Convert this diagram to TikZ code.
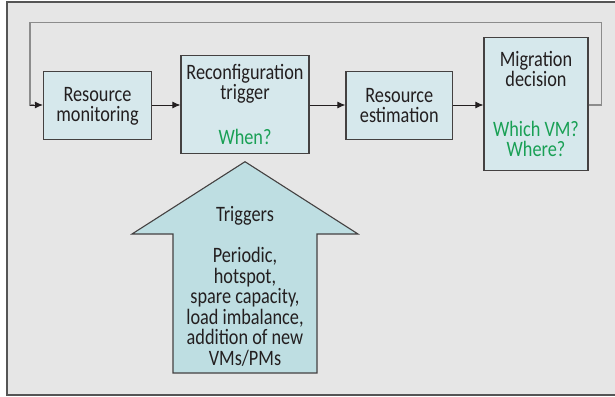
\documentclass[tikz,border=0pt]{standalone}
\usepackage{fontspec}
\setmainfont{Carlito}[FakeStretch=0.83]
\usetikzlibrary{arrows.meta}
\definecolor{bgray}{RGB}{230,230,230}
\definecolor{framec}{RGB}{85,85,85}
\definecolor{boxfill}{RGB}{214,232,236}
\definecolor{arrowfill}{RGB}{190,222,226}
\definecolor{txtc}{RGB}{35,31,32}
\definecolor{greenc}{RGB}{25,160,85}
\definecolor{fbgray}{RGB}{140,140,140}
\tikzset{
  procbox/.style={draw=txtc!85, line width=1.1pt, fill=boxfill, align=center,
    inner sep=0pt, text=txtc, font=\fontsize{22}{20}\selectfont},
  conn/.style={draw=txtc, line width=1pt, -{Latex[length=8pt,width=7pt]}},
  fbline/.style={draw=fbgray, line width=1.2pt},
  bigarrow/.style={draw=txtc!85, line width=1.1pt, fill=arrowfill},
  arrtext/.style={align=center, text=txtc, font=\fontsize{22}{20.5}\selectfont},
  grn/.style={text=greenc}
}
\begin{document}
\begin{tikzpicture}[x=1pt,y=-1pt]
\useasboundingbox (0,0) rectangle (615,396);
\fill[white] (0,0) rectangle (615,396);
\draw[framec, line width=1.8pt, fill=bgray] (7,2) rectangle (618,395);

% process boxes
\node[procbox, minimum width=108pt, minimum height=68pt] (mon) at (97.5,105.9)
  {Resource\\monitoring};
\node[procbox, minimum width=128pt, minimum height=98pt] (trig) at (245,104.9)
  {Reconfiguration\\trigger\\[25pt]\textcolor{greenc}{When?}};
\node[procbox, minimum width=106.7pt, minimum height=68pt] (est) at (399.3,105.9)
  {Resource\\estimation};
\node[procbox, minimum width=104pt, minimum height=132.3pt] (mig) at (536,103.9)
  {Migration\\decision\\[30pt]\textcolor{greenc}{Which VM?}\\\textcolor{greenc}{Where?}};

% feedback loop
\coordinate (fbR) at (601.7,105);
\coordinate (fbRt) at (601.7,22.3);
\coordinate (fbLt) at (30,22.3);
\coordinate (fbL) at (30,105);
\draw[fbline] (mig.east |- fbR) -- (fbR) -- (fbRt) -- (fbLt) -- (fbL) -- ++(4,0);
\draw[conn] (fbL) -- (mon.west |- fbL);

% connectors
\draw[conn] (mon.east |- fbL) -- (trig.west |- fbL);
\draw[conn] (trig.east |- fbL) -- (est.west |- fbL);
\draw[conn] (est.east |- fbL) -- (mig.west |- fbL);

% big triggers arrow
\draw[bigarrow] (173,373) -- (173,234) -- (132,234) -- (245,161.7) -- (358,234)
  -- (317,234) -- (317,373) -- cycle;
\node[arrtext] (trg) at (245,286)
  {Triggers\\[21pt]Periodic,\\hotspot,\\spare capacity,\\load imbalance,\\addition of new\\VMs/PMs};
\end{tikzpicture}
\end{document}
